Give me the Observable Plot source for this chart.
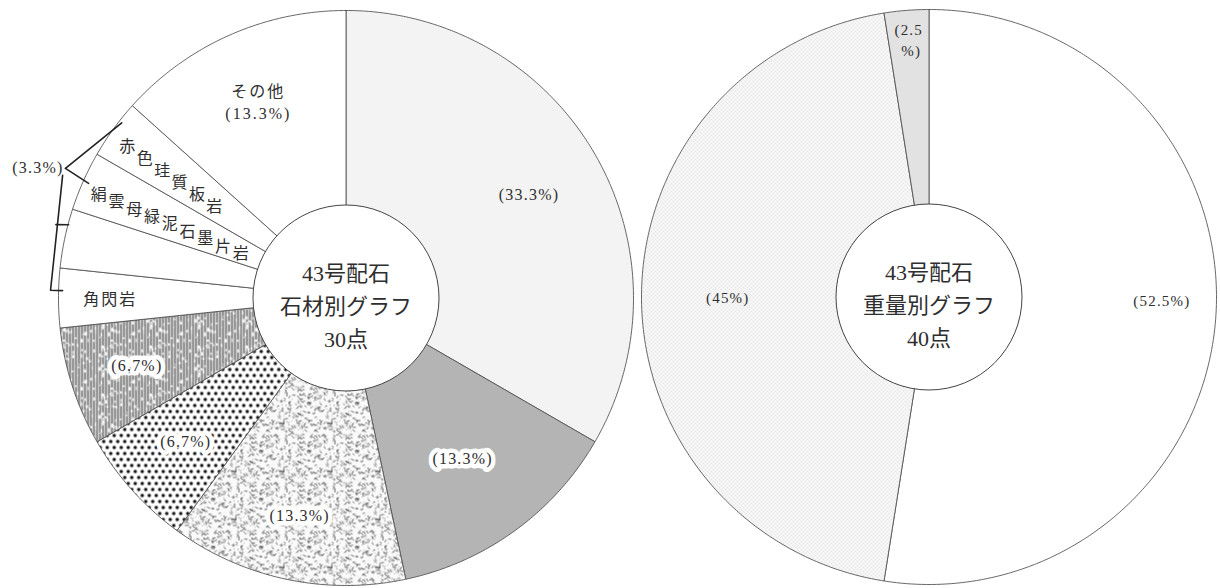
<!DOCTYPE html>
<html><head><meta charset="utf-8">
<script src="https://cdn.jsdelivr.net/npm/d3@7"></script>
<script src="https://cdn.jsdelivr.net/npm/@observablehq/plot@0.6"></script>
<style>
body{margin:0;background:#fff;}
#chart svg{display:block;}
</style></head><body><div id="chart"></div>
<script>
// ---------- data ----------
// 石材別 (30点): counts per stone type, clockwise from 12 o'clock
const stoneCounts = [10, 4, 4, 2, 2, 1, 1, 1, 1, 4];
const stoneLabels = ["(33.3%)", "(13.3%)", "(13.3%)", "(6.7%)", "(6.7%)", "角閃岩", "", "絹雲母緑泥石墨片岩", "赤色珪質板岩", "その他\n(13.3%)"];
const sharedLabel = "(3.3%)";
// 重量別 (40点)
const weightCounts = [21, 18, 1];
const weightLabels = ["(52.5%)", "(45%)", "(2.5\n %)"];
const centerTitles = ["43号配石\n石材別グラフ\n30点", "43号配石\n重量別グラフ\n40点"];

// ---------- styles / layout ----------
const stoneFills = ["#f3f3f3", "#b4b4b4", "url(#speckle)", "url(#dots)", "url(#vlines)", "#ffffff", "#ffffff", "#ffffff", "#ffffff", "#ffffff"];
const weightFills = ["#ffffff", "url(#fine)", "#e2e2e2"];
const stoneLabelR = [0.735, 0.69, 0.775, 0.75, 0.765, 0.82, 0, 0, 0, 0.75];
const weightLabelR = [0.81, 0.70, 0.90];
const haloIdx = new Set([1, 2, 3, 4]);
const radialIdx = new Set([7, 8]);

const W = 1220, H = 588, R = 287.5, innerR = 93;
const centersPx = [[345.5, 297.5], [928.5, 296.5]];
const toUnit = ([px, py]) => [(px - centersPx[0][0]) / R, (centersPx[0][1] - py) / R];
const centers = centersPx.map(toUnit);
const xDomain = [-centersPx[0][0] / R, (W - centersPx[0][0]) / R];
const yDomain = [-(H - centersPx[0][1]) / R, centersPx[0][1] / R];
const polar = (c, deg, r) => { const a = deg * Math.PI / 180; return [c[0] + r * Math.sin(a), c[1] + r * Math.cos(a)]; };
const deg = (a) => a * 180 / Math.PI;

function slices(counts, c, fills, key) {
  const arcs = d3.pie().sort(null)(counts);
  const rows = [];
  arcs.forEach((a, i) => {
    const a0 = deg(a.startAngle), a1 = deg(a.endAngle);
    const n = Math.max(2, Math.ceil((a1 - a0) / 0.5));
    const k = key + i;
    rows.push({k, x: c[0], y: c[1], fill: fills[i]});
    for (let j = 0; j <= n; j++) {
      const [x, y] = polar(c, a0 + (a1 - a0) * j / n, 1);
      rows.push({k, x, y, fill: fills[i]});
    }
    rows.push({k, x: c[0], y: c[1], fill: fills[i]});
  });
  return {arcs, rows, mids: arcs.map(a => deg((a.startAngle + a.endAngle) / 2))};
}

const L = slices(stoneCounts, centers[0], stoneFills, "L");
const Rt = slices(weightCounts, centers[1], weightFills, "R");

// labels
const plainLabels = [], haloLabels = [], radialChars = [];
stoneLabels.forEach((t, i) => {
  if (!t) return;
  if (radialIdx.has(i)) {
    const chars = [...t];
    const r0 = i === 7 ? 0.932 : 0.925, step = i === 7 ? 0.0669 : 0.0736;
    chars.forEach((ch, j) => {
      const [x, y] = polar(centers[0], L.mids[i] - 1.3, r0 - step * j);
      radialChars.push({x, y, t: ch});
    });
    return;
  }
  const [x, y] = polar(centers[0], L.mids[i], stoneLabelR[i]);
  (haloIdx.has(i) ? haloLabels : plainLabels).push({x, y, t});
});
const weightLabelRows = weightLabels.map((t, i) => {
  const [x, y] = polar(centers[1], i === 0 ? 90.5 : Rt.mids[i], weightLabelR[i]);
  return {x, y, t};
});

// shared (3.3%) annotation derived from the four small slices
const m = L.mids;
const kink = polar(centers[0], m[7] + 0.8, 1.075);
const leaders = [
  [kink, polar(centers[0], m[8] + 2, 0.99)],
  [kink, polar(centers[0], m[7], 0.98)],
  [polar(centers[0], m[7] - 0.6, 1.074), polar(centers[0], m[5] + 1.5, 1.028), polar(centers[0], m[5] + 1.5, 0.986)],
  [polar(centers[0], m[6] + 2.2, 1.041), polar(centers[0], m[6] + 2.8, 0.998)]
];
const leaderRows = leaders.flatMap((pts, g) => pts.map(([x, y]) => ({g, x, y})));

const FONT = "'Liberation Serif','Noto Sans CJK JP',serif";
const INK = "#2e2e2e";

const plot = Plot.plot({
  width: W, height: H,
  margin: 0,
  x: {domain: xDomain, axis: null},
  y: {domain: yDomain, axis: null},
  color: {type: "identity"},
  style: {fontFamily: FONT, background: "#fff", color: INK},
  marks: [
    Plot.line(L.rows, {x: "x", y: "y", z: "k", fill: "fill", stroke: "#555", strokeWidth: 0.9}),
    Plot.line(Rt.rows, {x: "x", y: "y", z: "k", fill: "fill", stroke: "#555", strokeWidth: 0.9}),
    Plot.dot(centers, {x: d => d[0], y: d => d[1], r: innerR, fill: "#fff", stroke: "#444", strokeWidth: 1}),
    Plot.text(centers, {x: d => d[0], y: d => d[1], text: (d, i) => centerTitles[i], fontSize: 22, lineHeight: 1.5, dy: 5, fill: INK}),
    Plot.text(haloLabels, {x: "x", y: "y", text: "t", fontSize: 16, fill: INK, stroke: "#fff", strokeWidth: 9, strokeLinejoin: "round"}),
    Plot.text(plainLabels, {x: "x", y: "y", text: "t", fontSize: 16, lineHeight: 1.4, fill: INK}),
    Plot.text(radialChars, {x: "x", y: "y", text: "t", fontSize: 16, fill: INK}),
    Plot.text(weightLabelRows, {x: "x", y: "y", text: "t", fontSize: 15, lineHeight: 1.35, fill: INK}),
    Plot.line(leaderRows, {x: "x", y: "y", z: "g", stroke: "#222", strokeWidth: 1.6}),
    Plot.text([kink], {x: d => d[0], y: d => d[1], text: () => sharedLabel, textAnchor: "end", dx: -2, fontSize: 16, fill: INK})
  ]
});

// wider letter spacing for the percentage labels (typeset look)
d3.select(plot).selectAll("text").filter(function () { return /%/.test(this.textContent); }).attr("letter-spacing", "1.2px");
d3.select(plot).selectAll("text").filter(function () { return /^(その他|角閃岩)/.test(this.textContent); }).attr("letter-spacing", "2px");

// texture patterns for the hatched slices
const defs = d3.select(plot).insert("defs", ":first-child");
const rnd = d3.randomLcg(0.4242);
// speckle
{
  const p = defs.append("pattern").attr("id", "speckle").attr("patternUnits", "userSpaceOnUse").attr("width", 48).attr("height", 48);
  p.append("rect").attr("width", 48).attr("height", 48).attr("fill", "#fafafa");
  for (let i = 0; i < 150; i++) {
    const x = rnd() * 48, y = rnd() * 48, a = rnd() * Math.PI, l = 0.8 + rnd() * 2.4;
    p.append("line").attr("x1", x).attr("y1", y).attr("x2", x + l * Math.cos(a)).attr("y2", y + l * Math.sin(a))
      .attr("stroke", "#222").attr("stroke-width", 0.7).attr("stroke-linecap", "round");
  }
  for (let i = 0; i < 90; i++) {
    p.append("circle").attr("cx", rnd() * 48).attr("cy", rnd() * 48).attr("r", 0.45).attr("fill", "#555");
  }
}
// dense dots
{
  const p = defs.append("pattern").attr("id", "dots").attr("patternUnits", "userSpaceOnUse").attr("width", 7).attr("height", 12);
  p.append("rect").attr("width", 7).attr("height", 12).attr("fill", "#fff");
  [[1.75, 3], [5.25, 9]].forEach(([x, y]) => p.append("circle").attr("cx", x).attr("cy", y).attr("r", 1.75).attr("fill", "#111"));
}
// vertical lines with white flecks
{
  const p = defs.append("pattern").attr("id", "vlines").attr("patternUnits", "userSpaceOnUse").attr("width", 48).attr("height", 48);
  p.append("rect").attr("width", 48).attr("height", 48).attr("fill", "#cacaca");
  for (let x = 0.5; x < 48; x += 3) p.append("line").attr("x1", x).attr("x2", x).attr("y1", 0).attr("y2", 48).attr("stroke", "#6b6b6b").attr("stroke-width", 1.1);
  for (let i = 0; i < 70; i++) {
    p.append("rect").attr("x", rnd() * 47).attr("y", rnd() * 46).attr("width", 0.8 + rnd() * 1.8).attr("height", 1 + rnd() * 3).attr("fill", "#fff");
  }
}
// fine light dots
{
  const p = defs.append("pattern").attr("id", "fine").attr("patternUnits", "userSpaceOnUse").attr("width", 4).attr("height", 4);
  p.append("rect").attr("width", 4).attr("height", 4).attr("fill", "#fff");
  [[1, 1], [3, 3]].forEach(([x, y]) => p.append("circle").attr("cx", x).attr("cy", y).attr("r", 0.55).attr("fill", "#8c8c8c"));
}

document.getElementById("chart").appendChild(plot);
</script></body></html>
